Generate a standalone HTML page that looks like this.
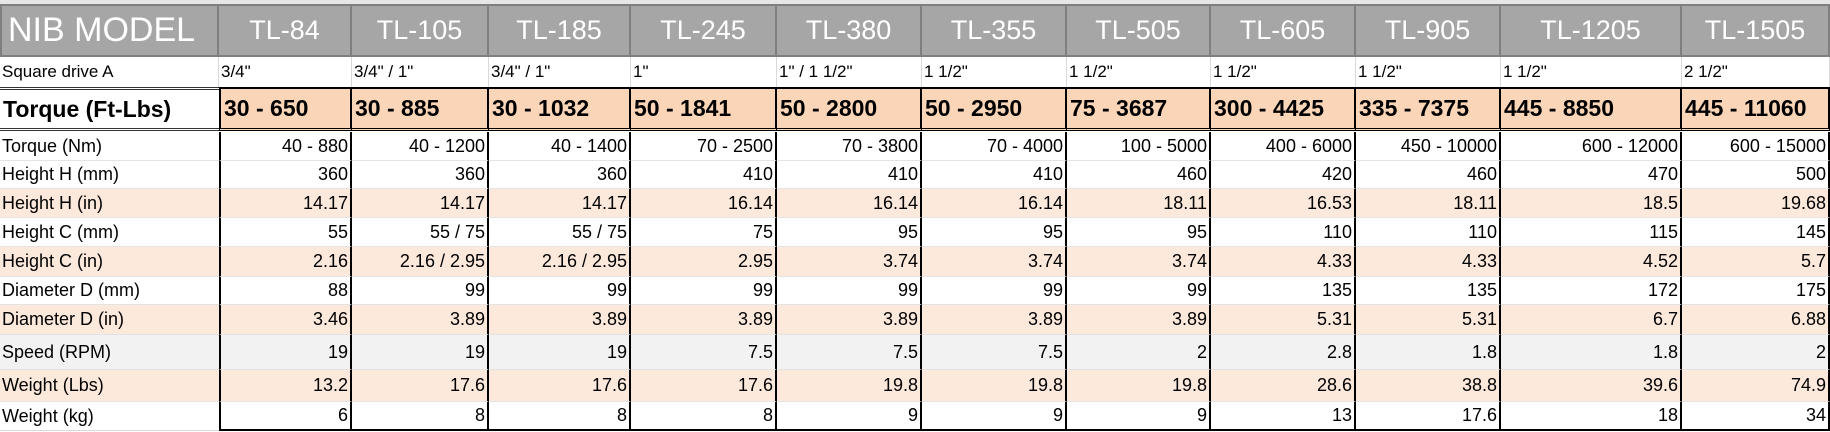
<!DOCTYPE html>
<html><head><meta charset="utf-8">
<style>
body{margin:0;width:1830px;height:432px;overflow:hidden;background:#fff;font-family:"Liberation Sans",sans-serif;}
#t{position:absolute;left:0;top:0;width:1830px;height:432px;}
.c{position:absolute;box-sizing:border-box;white-space:nowrap;overflow:hidden;display:flex;align-items:center;}
</style></head>
<body>
<div id="t"></div>
<script>
const models=["TL-84","TL-105","TL-185","TL-245","TL-380","TL-355","TL-505","TL-605","TL-905","TL-1205","TL-1505"];
const squareDrive=['3/4"','3/4" / 1"','3/4" / 1"','1"','1" / 1 1/2"','1 1/2"','1 1/2"','1 1/2"','1 1/2"','1 1/2"','2 1/2"'];
const torqueFt=["30 - 650","30 - 885","30 - 1032","50 - 1841","50 - 2800","50 - 2950","75 - 3687","300 - 4425","335 - 7375","445 - 8850","445 - 11060"];
const torqueNm=["40 - 880","40 - 1200","40 - 1400","70 - 2500","70 - 3800","70 - 4000","100 - 5000","400 - 6000","450 - 10000","600 - 12000","600 - 15000"];
const heightHmm=["360","360","360","410","410","410","460","420","460","470","500"];
const heightHin=["14.17","14.17","14.17","16.14","16.14","16.14","18.11","16.53","18.11","18.5","19.68"];
const heightCmm=["55","55 / 75","55 / 75","75","95","95","95","110","110","115","145"];
const heightCin=["2.16","2.16 / 2.95","2.16 / 2.95","2.95","3.74","3.74","3.74","4.33","4.33","4.52","5.7"];
const diaDmm=["88","99","99","99","99","99","99","135","135","172","175"];
const diaDin=["3.46","3.89","3.89","3.89","3.89","3.89","3.89","5.31","5.31","6.7","6.88"];
const speed=["19","19","19","7.5","7.5","7.5","2","2.8","1.8","1.8","2"];
const weightLbs=["13.2","17.6","17.6","17.6","19.8","19.8","19.8","28.6","38.8","39.6","74.9"];
const weightKg=["6","8","8","8","9","9","9","13","17.6","18","34"];

const colX=[0,219,352,489,631,777,922,1067,1211,1356,1501,1682,1830];
const T=document.getElementById('t');
function cell(x,y,w,h,text,css,name){
  const d=document.createElement('div');
  d.className='c';
  d.style.cssText+=`left:${x}px;top:${y}px;width:${w}px;height:${h}px;`+css;
  d.textContent=text;
  
  
  T.appendChild(d);
  return d;
}
cell(0,0,1830,4,"","background:#e6e6e6;","sheet-header-strip");
cell(0,4,219,53,"NIB MODEL","background:#a6a6a6;color:#fff;font-size:34px;padding-left:6px;border:2px solid #7f7f7f;","header-nib-model");
models.forEach((m,i)=>{
  cell(colX[i+1],4,colX[i+2]-colX[i+1],53,m,"background:#a6a6a6;color:#fff;font-size:27px;justify-content:center;border:2px solid #7f7f7f;border-left:none;","header-"+m.toLowerCase());
});
cell(0,57,219,30,"Square drive A","font-size:17px;padding-left:2px;border-right:1px solid #d9d9d9;","label-square-drive");
squareDrive.forEach((v,i)=>{
  cell(colX[i+1],57,colX[i+2]-colX[i+1],30,v,"font-size:17px;padding-left:2px;border-right:1px solid #d9d9d9;","square-drive-"+models[i].toLowerCase());
});
cell(0,87,219,44,"Torque (Ft-Lbs)","font-size:23px;font-weight:bold;padding-left:3px;border-top:3px double #333;border-bottom:3px double #333;","label-torque-ftlbs");
torqueFt.forEach((v,i)=>{
  cell(colX[i+1],87,colX[i+2]-colX[i+1],44,v,"background:#fbd5b7;font-size:23px;font-weight:bold;padding-left:3px;border:2px solid #000;border-left:"+(i==0?"2px solid #000":"none")+";border-bottom:3px double #000;","torque-ftlbs-"+models[i].toLowerCase());
});
const rows=[
 ["Torque (Nm)",torqueNm,"#fff",29],
 ["Height H (mm)",heightHmm,"#fff",28],
 ["Height H (in)",heightHin,"#fce9dc",29],
 ["Height C (mm)",heightCmm,"#fff",29],
 ["Height C (in)",heightCin,"#fce9dc",30],
 ["Diameter D (mm)",diaDmm,"#fff",28],
 ["Diameter D (in)",diaDin,"#fce9dc",30],
 ["Speed (RPM)",speed,"#f2f2f2",35],
 ["Weight (Lbs)",weightLbs,"#fce9dc",32],
 ["Weight (kg)",weightKg,"#fff",29]
];
let y=132;
rows.forEach((r,ri)=>{
  const [label,vals,bg,h]=r;
  const last=ri==rows.length-1;
  const slug=label.toLowerCase().replace(/[^a-z0-9]+/g,'-').replace(/-$/,'');
  cell(0,y,219,h,label,`background:${bg};font-size:18px;padding-left:2px;border-bottom:1px solid ${last?'#d9d9d9':'#e4e4e4'};`,"label-"+slug);
  vals.forEach((v,i)=>{
    cell(colX[i+1],y,colX[i+2]-colX[i+1],h,v,`background:${bg};font-size:18px;justify-content:flex-end;padding-right:2px;border-right:2px solid #000;${i==0?'border-left:2px solid #000;':''}border-bottom:${last?'2px solid #000':'1px solid #e4e4e4'};`,slug+"-"+models[i].toLowerCase());
  });
  y+=h;
});
</script>
</body></html>
